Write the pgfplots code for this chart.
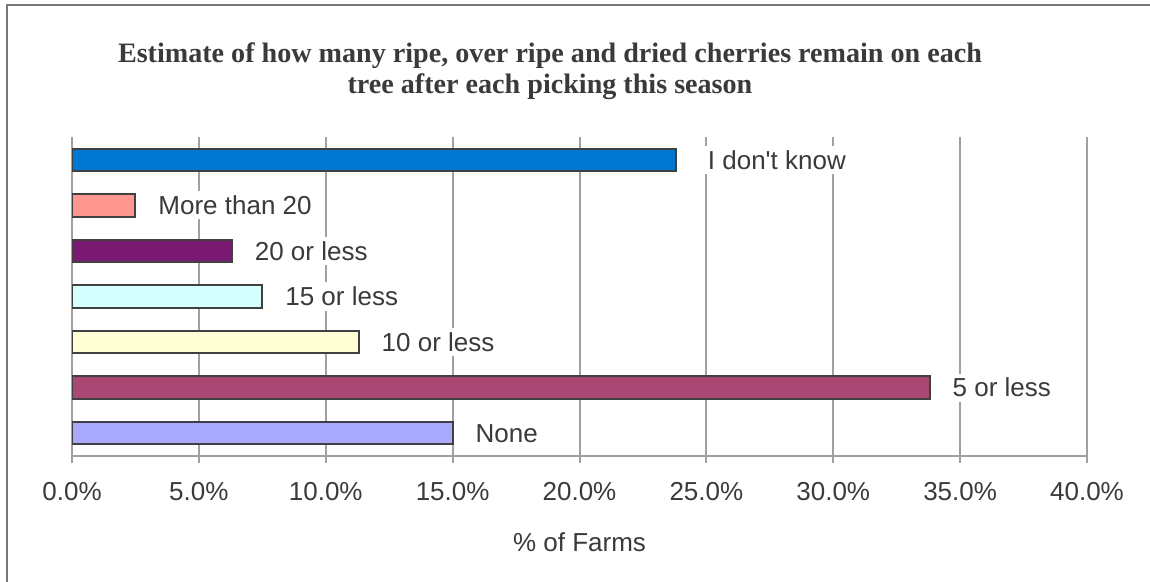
\documentclass[border=0pt]{standalone}
\usepackage{fontspec}
\setmainfont{Liberation Sans}
\newfontfamily\titlefont{Liberation Serif}
\usepackage{pgfplots}
\pgfplotsset{compat=1.18}

\definecolor{txt}{HTML}{3A3A3A}
\definecolor{gridc}{HTML}{A0A0A0}
\definecolor{edge}{HTML}{404040}
\definecolor{frame}{HTML}{777777}
\definecolor{cKnow}{HTML}{0078D4}
\definecolor{cMore}{HTML}{FF9690}
\definecolor{cTwenty}{HTML}{7B1A72}
\definecolor{cFifteen}{HTML}{D6FFFF}
\definecolor{cTen}{HTML}{FFFFD6}
\definecolor{cFive}{HTML}{A94872}
\definecolor{cNone}{HTML}{A8A8FF}

\begin{document}
\begin{tikzpicture}
% page: 1150 x 582 px at 0.2mm per px
\path[use as bounding box] (0,0) rectangle (230mm,116.4mm);
\draw[frame, line width=0.35mm] (1.4mm,0) -- (1.4mm,115.4mm) -- (230mm,115.4mm);

\node[align=center, text=txt, font=\titlefont\bfseries\fontsize{16}{17.6}\selectfont]
  at (110mm,102.1mm)
  {Estimate of how many ripe, over ripe and dried cherries remain on each\\
   tree after each picking this season};

\begin{axis}[
    at={(14.4mm,25.2mm)}, anchor=south west,
    scale only axis,
    width=203mm, height=63.8mm,
    xbar, bar width=4.5mm, bar shift=0pt,
    xmin=0, xmax=40, ymin=-0.5, ymax=6.5,
    axis x line*=bottom, axis y line*=left,
    axis line style={gridc, line width=0.4mm},
    xtick={0,5,...,40}, ytick=\empty,
    xmajorgrids, grid style={gridc, line width=0.4mm},
    tick style={gridc, line width=0.4mm},
    tick align=outside, major tick length=1.4mm,
    /pgf/number format/assume math mode=true,
    xticklabel={\pgfmathprintnumber[fixed,fixed zerofill,precision=1]{\tick}\%},
    tick label style={font=\fontsize{14.8}{17}\selectfont, text=txt},
    xticklabel style={anchor=base, yshift=-7.6mm},
    xlabel={\% of Farms},
    every axis x label/.style={at={(axis description cs:0.5,0)}, anchor=center,
        yshift=-17.2mm, font=\fontsize{14.8}{17}\selectfont, text=txt},
    every axis plot/.append style={draw=edge, line width=0.4mm},
    every node near coord/.append style={draw=none, fill=white, text=txt,
        font=\fontsize{14.8}{17}\selectfont, inner xsep=1mm, inner ysep=0.9mm,
        anchor=west, xshift=3.4mm},
]
\addplot[fill=cNone, nodes near coords={None}] coordinates {(15.0,0)};
\addplot[fill=cFive, nodes near coords={5 or less}] coordinates {(33.8,1)};
\addplot[fill=cTen, nodes near coords={10 or less}] coordinates {(11.3,2)};
\addplot[fill=cFifteen, nodes near coords={15 or less}] coordinates {(7.5,3)};
\addplot[fill=cTwenty, nodes near coords={20 or less}] coordinates {(6.3,4)};
\addplot[fill=cMore, nodes near coords={More than 20}] coordinates {(2.5,5)};
\addplot[fill=cKnow, nodes near coords={I don\textquotesingle t know},
    every node near coord/.append style={xshift=1.8mm}] coordinates {(23.8,6)};
\end{axis}
\end{tikzpicture}
\end{document}
